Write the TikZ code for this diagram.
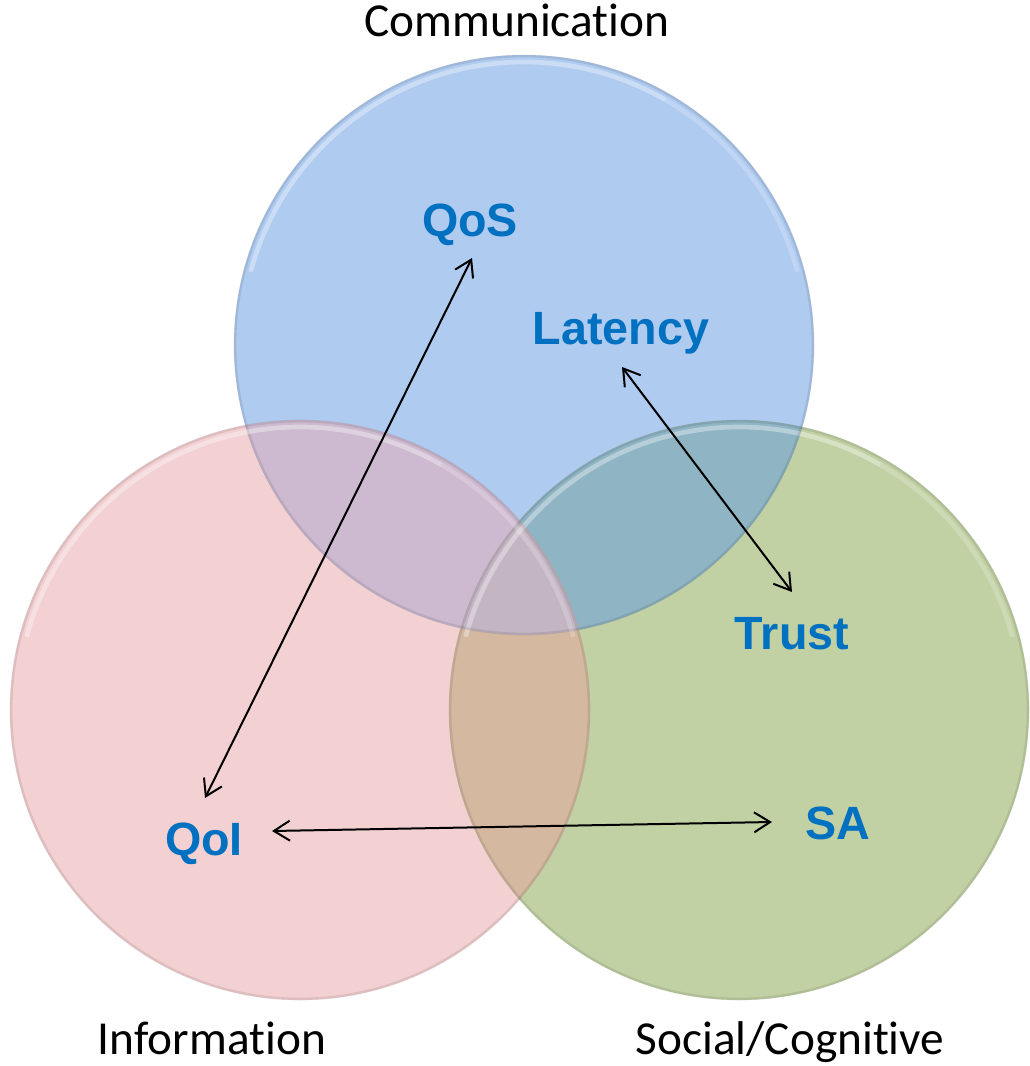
\documentclass[tikz,border=0pt]{standalone}
\usepackage{fontspec}
\setmainfont{Carlito}[Ligatures=NoCommon]
\newfontfamily\labelfont{Liberation Sans}
\usetikzlibrary{arrows.meta}
\definecolor{pinkc}{RGB}{243,208,209}
\definecolor{bluec}{RGB}{175,203,240}
\definecolor{greenc}{RGB}{194,209,164}
\definecolor{pbc}{RGB}{205,185,208}
\definecolor{bgc}{RGB}{143,180,196}
\definecolor{pgc}{RGB}{212,184,160}
\definecolor{allc}{RGB}{196,181,195}
\definecolor{lblue}{RGB}{0,112,192}
\tikzset{
  setlabel/.style={font=\fontsize{35.5pt}{40pt}\selectfont, text=black, anchor=base, inner sep=0pt},
  itemlabel/.style={font=\labelfont\bfseries\fontsize{35pt}{40pt}\selectfont, text=lblue, anchor=base, inner sep=0pt},
  link/.style={line width=1.5pt, {Straight Barb[length=12pt,width=15pt]}-{Straight Barb[length=12pt,width=15pt]}},
  rim/.style={draw=black, draw opacity=0.09, line width=2pt},
  shine/.style={draw=white, draw opacity=0.35, line width=3.5pt},
}
\begin{document}
\begin{tikzpicture}[x=0.75pt,y=-0.75pt]
\useasboundingbox (0,0) rectangle (1029,1066);
\coordinate (P) at (300,710);
\coordinate (B) at (524,345);
\coordinate (G) at (739,710);
% base fills
\fill[pinkc] (P) circle (290);
\fill[bluec] (B) circle (290);
\fill[greenc] (G) circle (290);
\begin{scope}\clip (B) circle (290); \fill[bgc] (G) circle (290);\end{scope}
\begin{scope}\clip (P) circle (290); \fill[pbc] (B) circle (290);\end{scope}
\begin{scope}\clip (P) circle (290); \fill[pgc] (G) circle (290);\end{scope}
\begin{scope}\clip (P) circle (290); \clip (B) circle (290); \fill[allc] (G) circle (290);\end{scope}
% rims and highlights
\foreach \c in {G,B,P}{
  \draw[rim] (\c) circle (289);
  \draw[shine] (\c) ++(195:283) arc (195:300:283);
  \draw[shine, draw opacity=0.2] (\c) ++(300:283) arc (300:345:283);
}
% set labels
\node[setlabel] (comm) at (517,37) {Communication};
\node[setlabel] (info) at (212,1054) {Information};
\node[setlabel] (soc) at (790,1054) {Social/Cognitive};
% item labels
\node[itemlabel] (qos) at (470,237) {QoS};
\node[itemlabel] (lat) at (621,344) {Latency};
\node[itemlabel] (trust) at (792,649) {Trust};
\node[itemlabel] (sa) at (838,839) {SA};
\node[itemlabel] (qoi) at (204,855) {QoI};
% connector ends
\coordinate (qosE) at (472,258);
\coordinate (qoiN) at (205,798);
\coordinate (latE) at (622,367);
\coordinate (trustE) at (792,592);
\coordinate (qoiE) at (272,831);
\coordinate (saE) at (772,822);
\draw[link] (qosE) -- (qoiN);
\draw[link] (latE) -- (trustE);
\draw[link] (qoiE) -- (saE);
\end{tikzpicture}
\end{document}
